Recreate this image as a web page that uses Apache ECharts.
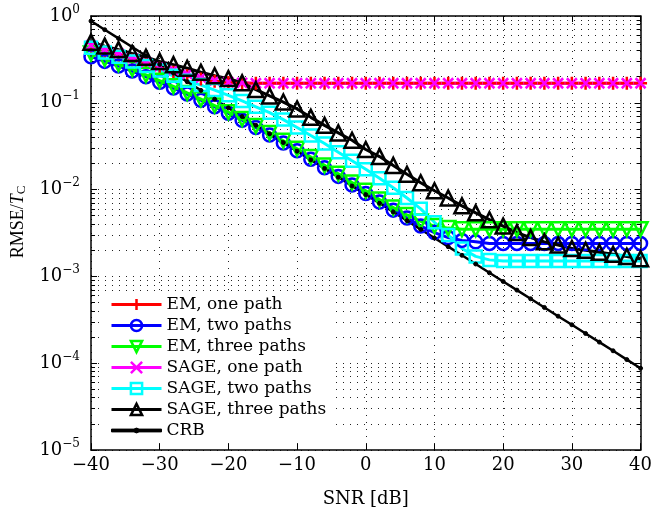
<!DOCTYPE html>
<html>
<head>
<meta charset="utf-8">
<script src="https://cdn.jsdelivr.net/npm/echarts@6/dist/echarts.min.js"></script>
<style>html,body{margin:0;padding:0;background:#fff;}#c{width:655px;height:513px;}</style>
</head>
<body>
<div id="c"></div>
<script>
var snr = [-40,-38,-36,-34,-32,-30,-28,-26,-24,-22,-20,-18,-16,-14,-12,-10,-8,-6,-4,-2,0,2,4,6,8,10,12,14,16,18,20,22,24,26,28,30,32,34,36,38,40];

var emOne = [0.43,0.39,0.35,0.31,0.28,0.25,0.225,0.205,0.188,0.177,0.171,0.169,0.168,0.168,0.168,0.168,0.168,0.168,0.168,0.168,0.168,0.168,0.168,0.168,0.168,0.168,0.168,0.168,0.168,0.168,0.168,0.168,0.168,0.168,0.168,0.168,0.168,0.168,0.168,0.168,0.168];
var emTwo = [0.34,0.30,0.265,0.232,0.20,0.172,0.148,0.126,0.107,0.090,0.076,0.063,0.052,0.0425,0.0345,0.0280,0.0224,0.0178,0.0142,0.0113,0.0090,0.0072,0.0058,0.0047,0.0038,0.0032,0.0028,0.0026,0.0025,0.0024,0.0024,0.0024,0.0024,0.0024,0.0024,0.0024,0.0024,0.0024,0.0024,0.0024,0.0024];
var emThree = [0.37,0.32,0.28,0.245,0.21,0.18,0.155,0.13,0.11,0.093,0.078,0.065,0.054,0.045,0.0365,0.0295,0.0237,0.019,0.0152,0.0121,0.0097,0.0077,0.0062,0.0051,0.0043,0.0038,0.0036,0.0035,0.0035,0.0035,0.0035,0.0035,0.0035,0.0035,0.0035,0.0035,0.0035,0.0035,0.0035,0.0035,0.0035];
var sageOne = [0.46,0.41,0.37,0.33,0.295,0.265,0.24,0.215,0.195,0.181,0.173,0.170,0.168,0.168,0.168,0.168,0.168,0.168,0.168,0.168,0.168,0.168,0.168,0.168,0.168,0.168,0.168,0.168,0.168,0.168,0.168,0.168,0.168,0.168,0.168,0.168,0.168,0.168,0.168,0.168,0.168];
var sageTwo = [0.43,0.38,0.34,0.30,0.265,0.235,0.205,0.18,0.16,0.14,0.122,0.105,0.09,0.077,0.064,0.052,0.042,0.034,0.027,0.0215,0.0172,0.0135,0.0105,0.0080,0.0060,0.0042,0.0030,0.0021,0.0017,0.00155,0.0015,0.0015,0.0015,0.0015,0.0015,0.0015,0.0015,0.0015,0.0015,0.0015,0.0015];
var sageThree = [0.50,0.45,0.41,0.37,0.335,0.30,0.275,0.25,0.225,0.205,0.19,0.17,0.142,0.12,0.102,0.085,0.068,0.055,0.045,0.037,0.029,0.024,0.019,0.015,0.012,0.0097,0.0080,0.0065,0.0054,0.0045,0.0038,0.0032,0.0028,0.0025,0.0023,0.0021,0.0020,0.0019,0.0018,0.0017,0.0016];
var crb = [0.875,0.695,0.552,0.439,0.348,0.277,0.220,0.175,0.139,0.110,0.0875,0.0695,0.0552,0.0439,0.0348,0.0277,0.0220,0.0175,0.0139,0.0110,0.00875,0.00695,0.00552,0.00439,0.00348,0.00277,0.00220,0.00175,0.00139,0.00110,0.000875,0.000695,0.000552,0.000439,0.000348,0.000277,0.000220,0.000175,0.000139,0.000110,0.0000875];

var legendNames = ['EM, one path', 'EM, two paths', 'EM, three paths', 'SAGE, one path', 'SAGE, two paths', 'SAGE, three paths', 'CRB'];

var yMinor = [];
for (var e = -5; e < 0; e++) { for (var m = 2; m <= 9; m++) { yMinor.push(m * Math.pow(10, e)); } }

var FONT = 'DejaVu Serif';
var TFONT = 'Liberation Serif';
var chart = echarts.init(document.getElementById('c'));

function pairs(arr) { return snr.map(function (x, i) { return [x, arr[i]]; }); }

function mk(name, arr, color, symbol, size, lw, filled) {
  return {
    name: name, type: 'line', data: pairs(arr),
    symbol: symbol, symbolSize: size, showSymbol: true,
    lineStyle: { color: color, width: lw },
    itemStyle: filled ? { color: color, borderColor: color, borderWidth: 1 } : { color: 'rgba(255,255,255,0)', borderColor: color, borderWidth: 2.5 },
    emphasis: { disabled: true },
    animation: false, clip: true
  };
}

var gridStyle = { color: '#222', width: 1, type: [1, 6] };
var supFmt = function (v) {
  var ex = Math.round(Math.log10(v));
  return '{b|10}{s|' + (ex < 0 ? '\u2212' + (-ex) : ex) + '}';
};
var richY = { b: { fontFamily: FONT, fontSize: 18, color: '#000' }, s: { fontFamily: FONT, fontSize: 12, color: '#000', padding: [0, 0, 13, 0] } };
var frameLine = { show: true, onZero: false, lineStyle: { color: '#000', width: 1.5 } };

var option = {
  backgroundColor: '#fff',
  animation: false,
  grid: { left: 91, right: 10, top: 16, bottom: 63, containLabel: false },
  xAxis: [
    { type: 'value', min: -40, max: 40, interval: 10, position: 'bottom',
      name: 'SNR [dB]', nameLocation: 'middle', nameGap: 40,
      nameTextStyle: { fontFamily: FONT, fontSize: 18, color: '#000' },
      axisLine: frameLine,
      axisTick: { inside: true, length: 6, lineStyle: { color: '#000' } },
      axisLabel: { fontFamily: FONT, fontSize: 18, color: '#000', margin: 6,
        formatter: function (v) { return v < 0 ? '\u2212' + Math.abs(v) : '' + v; } },
      splitLine: { show: true, lineStyle: gridStyle } },
    { type: 'value', min: -40, max: 40, interval: 10, position: 'top',
      axisLine: frameLine,
      axisTick: { inside: true, length: 6, lineStyle: { color: '#000' } },
      axisLabel: { show: false }, splitLine: { show: false } }
  ],
  yAxis: [
    { type: 'log', logBase: 10, min: 1e-5, max: 1, position: 'left',
      name: 'RMSE/{i|T}{c|C}', nameLocation: 'middle', nameGap: 57,
      nameTextStyle: { fontFamily: TFONT, fontSize: 18, color: '#000', padding: [0, 0, 0, 22],
        rich: { i: { fontFamily: TFONT, fontStyle: 'italic', fontSize: 18, color: '#000' },
                c: { fontFamily: TFONT, fontSize: 13, color: '#000', padding: [8, 0, 0, 0] } } },
      axisLine: frameLine,
      axisTick: { inside: true, length: 6, lineStyle: { color: '#000' } },
      axisLabel: { margin: 11, formatter: supFmt, rich: richY },
      splitLine: { show: true, lineStyle: gridStyle } },
    { type: 'log', logBase: 10, min: 1e-5, max: 1, position: 'left',
      axisLine: { show: false, onZero: false },
      axisTick: { inside: true, length: 4, customValues: yMinor, lineStyle: { color: '#000' } },
      axisLabel: { show: false },
      splitLine: { show: true, lineStyle: gridStyle } },
    { type: 'log', logBase: 10, min: 1e-5, max: 1, position: 'right',
      axisLine: frameLine,
      axisTick: { inside: true, length: 6, lineStyle: { color: '#000' } },
      axisLabel: { show: false }, splitLine: { show: false } },
    { type: 'log', logBase: 10, min: 1e-5, max: 1, position: 'right',
      axisLine: { show: false, onZero: false },
      axisTick: { inside: true, length: 4, customValues: yMinor, lineStyle: { color: '#000' } },
      axisLabel: { show: false }, splitLine: { show: false } }
  ],
  legend: {
    orient: 'vertical', left: 100, top: 292,
    itemWidth: 50, itemHeight: 14, itemGap: 4,
    backgroundColor: '#fff', padding: [4, 6, 4, 10],
    lineStyle: { width: 'inherit' },
    itemStyle: { borderWidth: 'inherit' },
    textStyle: { fontFamily: FONT, fontSize: 17, color: '#000' },
    data: legendNames.map(function (n) {
      return n === 'CRB'
        ? { name: n, icon: 'path://M0,5.6L50,5.6L50,8.4L0,8.4Z M25,4.6A2.4,2.4 0 1 1 25,9.4A2.4,2.4 0 1 1 25,4.6Z' }
        : { name: n };
    })
  },
  series: [
    mk('EM, one path', emOne, '#ff0000', 'path://M5,0L5,10M0,5L10,5', 13, 3),
    mk('EM, two paths', emTwo, '#0000ff', 'circle', 13, 3),
    mk('EM, three paths', emThree, '#00ff00', 'path://M0,0L10,0L5,9Z', 14, 3),
    mk('SAGE, one path', sageOne, '#ff00ff', 'path://M0,0L10,10M10,0L0,10', 10, 3),
    mk('SAGE, two paths', sageTwo, '#00ffff', 'rect', 12, 3),
    mk('SAGE, three paths', sageThree, '#000000', 'triangle', 15, 3),
    mk('CRB', crb, '#000000', 'circle', 4, 2.5, true)
  ]
};
chart.setOption(option);
</script>
</body>
</html>
